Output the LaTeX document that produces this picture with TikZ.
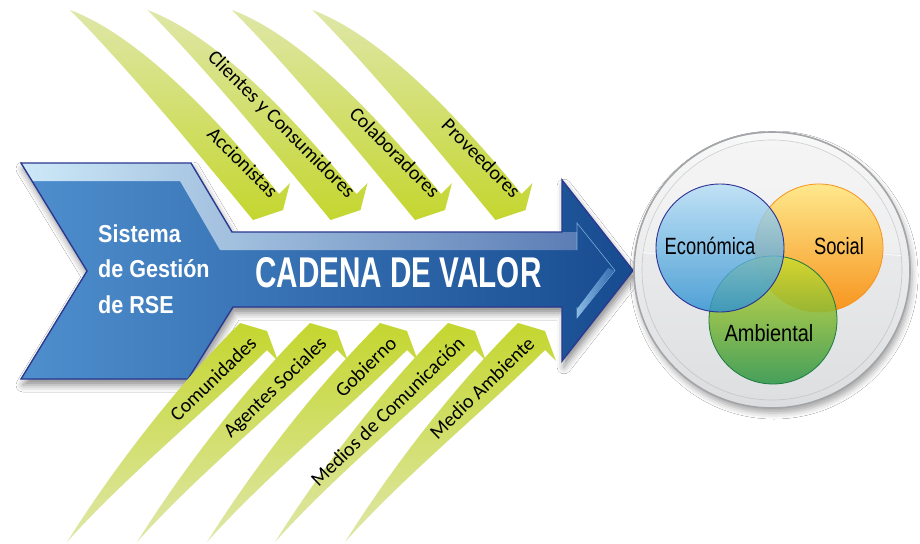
\documentclass[tikz,border=0pt]{standalone}
\usepackage{fontspec}
\usepackage{graphicx}
\setmainfont{Carlito}
\newfontfamily\lsans{Liberation Sans}
\usetikzlibrary{shadows.blur}
\definecolor{navy}{HTML}{2B3990}
\definecolor{arrL}{HTML}{4F8FCE}
\definecolor{arrR}{HTML}{174B90}
\definecolor{bevL}{HTML}{CDE9F8}
\definecolor{bevR}{HTML}{5B7DB5}
\definecolor{gPale}{HTML}{DFE7A8}
\definecolor{gMid}{HTML}{D3DF72}
\definecolor{gSat}{HTML}{C4D62F}
\definecolor{ringGray}{HTML}{A3A5A8}
\definecolor{rimFill}{HTML}{DCDDDF}
\definecolor{diskTop}{HTML}{F2F2F3}
\definecolor{diskBot}{HTML}{DEDFE1}
\definecolor{bluTop}{HTML}{B4DDF6}
\definecolor{bluBot}{HTML}{2A90D2}
\definecolor{bluLine}{HTML}{2E3192}
\definecolor{orTop}{HTML}{FEE88C}
\definecolor{orBot}{HTML}{F7941E}
\definecolor{orLine}{HTML}{F7941D}
\definecolor{grTop}{HTML}{D2DA2B}
\definecolor{grBot}{HTML}{2C9545}
\definecolor{grLine}{HTML}{1A7A40}
\definecolor{hiL}{HTML}{9CCBF0}
\definecolor{hiR}{HTML}{3A74B8}
\tikzset{
  greentop/.style={top color=gPale, middle color=gMid, bottom color=gSat, draw=none},
  greenbot/.style={top color=gSat, middle color=gMid, bottom color=gPale, draw=none},
  toplabel/.style={rotate=-45, anchor=base east, inner sep=0pt, text=black,
    font=\fontsize{20}{24}\selectfont},
  botlabel/.style={rotate=44, anchor=base east, inner sep=0pt, text=black,
    font=\fontsize{20}{24}\selectfont},
  whitelabel/.style={anchor=base west, inner sep=0pt, text=white,
    font=\lsans\bfseries\fontsize{24.5}{28}\selectfont},
  circlabel/.style={anchor=base, inner sep=0pt, text=black,
    font=\lsans\fontsize{23.5}{26}\selectfont},
  headline/.style={draw=hiL, line width=0.6pt, opacity=0.7}
}
\newcommand{\topGreen}[3]{%
  \begin{scope}[xshift=#1pt]
    \shade[greentop] (70,10) .. controls (145,38) and (228,132) .. (279,194)
      -- (290,183) -- (283,210) -- (253,220)
      .. controls (202,158) and (127,67) .. (70,10) -- cycle;
    \node[toplabel] (#2) at (270,199) {#3};
  \end{scope}}
\newcommand{\botGreen}[3]{%
  \begin{scope}[xshift=#1pt]
    \shade[greenbot] (67,542) .. controls (115,466) and (176,387) .. (240,323)
      -- (267,331) -- (278,361) -- (267,350)
      .. controls (203,414) and (127,475) .. (67,542) -- cycle;
    \node[botlabel] (#2) at (258,345) {#3};
  \end{scope}}
\begin{document}
\begin{tikzpicture}[x=1pt,y=-1pt]
\useasboundingbox (0,0) rectangle (920,543);
\fill[white] (0,0) rectangle (920,543);

% ---------- main arrow ----------
\coordinate (m1) at (21,163);
\coordinate (m2) at (191,163);
\coordinate (m3) at (232,232);
\coordinate (m4) at (562,232);
\coordinate (m5) at (562,180);
\coordinate (m6) at (633,270.5);
\coordinate (m7) at (562,361);
\coordinate (m8) at (562,307);
\coordinate (m9) at (233,307);
\coordinate (m10) at (188,379);
\coordinate (m11) at (21,379);
\coordinate (m12) at (87,271);

\shade[left color=arrL, right color=arrR,
  blur shadow={shadow xshift=2pt, shadow yshift=-6pt, shadow blur radius=7pt, shadow opacity=45}]
  (m1) -- (m2) -- (m3) -- (m4) -- (m5) -- (m6) -- (m7) -- (m8) -- (m9) -- (m10) -- (m11) -- (m12) -- cycle;
% bevel band
\shade[left color=bevL, right color=bevR]
  (m1) -- (m2) -- (m3) -- (577,232) -- (577,250) -- (220,250) -- (180,181) -- (32,181) -- cycle;
% inner head line and highlight
\draw[headline] (577,250) -- (577,223) -- (615,270.5) -- (577,318) -- (577,307);
\shade[left color=hiL, right color=hiR, opacity=0.85]
  (577,318) -- (577,309) -- (608,268) -- (614,270.5) -- cycle;
% outline
\draw[navy, line width=1.4pt, line join=miter]
  (m1) -- (m2) -- (m3) -- (m4) -- (m5) -- (m6) -- (m7) -- (m8) -- (m9) -- (m10) -- (m11) -- (m12) -- cycle;

\node[whitelabel] (sis1) at (98,242) {\scalebox{0.88}[1]{Sistema}};
\node[whitelabel] (sis2) at (98,277) {\scalebox{0.88}[1]{de Gestión}};
\node[whitelabel] (sis3) at (98,313) {\scalebox{0.88}[1]{de RSE}};
\node[anchor=base west, inner sep=0pt, text=white,
  font=\lsans\bfseries\fontsize{43}{48}\selectfont] (cadena) at (255,287)
  {\scalebox{0.69}[1]{CADENA DE VALOR}};

% ---------- green arrows ----------
\topGreen{0}{acc}{Accionistas}
\topGreen{77.5}{cli}{Clientes y Consumidores}
\topGreen{162}{col}{Colaboradores}
\topGreen{242.5}{pro}{Proveedores}

\botGreen{0}{com}{Comunidades}
\botGreen{70}{age}{Agentes Sociales}
\botGreen{140}{gob}{Gobierno}
\botGreen{208}{med}{Medios de Comunicación}
\botGreen{278}{amb}{Medio Ambiente}

% ---------- circle ----------
\coordinate (cc) at (772,270);
\fill[rimFill, blur shadow={shadow xshift=2pt, shadow yshift=-5pt, shadow blur radius=6pt, shadow opacity=35}]
  (cc) circle (138pt);
\shade[top color=white!80!rimFill, bottom color=rimFill] (cc) circle (137pt);
\shade[top color=diskTop, bottom color=diskBot] (cc) circle (130pt);
\draw[gray!45, line width=0.6pt] (cc) circle (130pt);
\draw[ringGray, line width=1.6pt] (cc) circle (138pt);
\begin{scope}
  \clip (cc) circle (130pt);
  \fill[white, opacity=0.25] (630,130) rectangle (915,253);
  \draw[white, opacity=0.8, line width=0.8pt] (640,252) .. controls (700,262) and (780,244) .. (905,256);
\end{scope}

\shade[top color=orTop, bottom color=orBot] (819,248) circle (64pt);
\draw[orLine, line width=0.8pt] (819,248) circle (64pt);
\shade[top color=grTop, bottom color=grBot, fill opacity=0.86] (773,320) circle (64pt);
\draw[grLine, line width=0.8pt] (773,320) circle (64pt);
\shade[top color=bluTop, bottom color=bluBot, fill opacity=0.8] (720,248) circle (64pt);
\draw[bluLine, line width=0.9pt] (720,248) circle (64pt);

\node[circlabel] (eco) at (710,254) {\scalebox{0.78}[1]{Económica}};
\node[circlabel] (soc) at (839,254) {\scalebox{0.78}[1]{Social}};
\node[circlabel] (ambl) at (769,341) {\scalebox{0.85}[1]{Ambiental}};
\end{tikzpicture}
\end{document}
